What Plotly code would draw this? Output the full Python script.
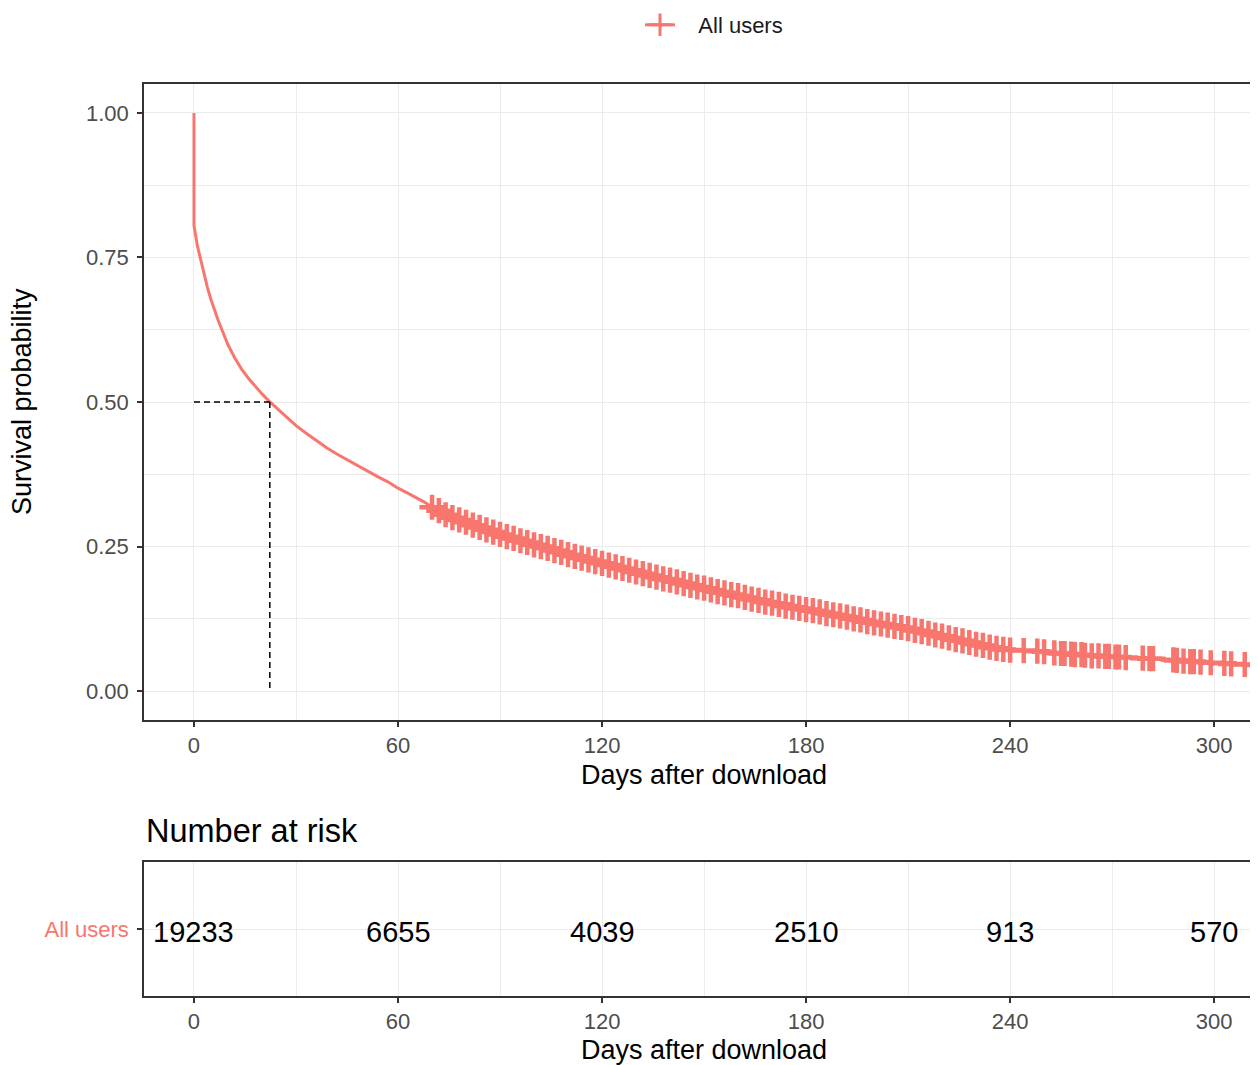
import plotly.graph_objects as go

# Kaplan-Meier curve: days after download -> survival
km_days = [0, 0, 1, 2, 3, 4, 5, 6, 7, 8, 9, 10, 12, 14, 16, 18, 20, 22, 24, 26, 28, 30,
           33, 36, 39, 42, 45, 48, 51, 54, 57, 60, 63, 66, 68,
           70, 72, 74, 76, 78, 80, 82, 84, 86, 88, 90, 92, 94, 96, 98,
           100, 102, 104, 106, 108, 110, 112, 114, 116, 118, 120, 122, 124, 126, 128,
           130, 132, 134, 136, 138, 140, 142, 144, 146, 148, 150, 152, 154, 156, 158,
           160, 162, 164, 166, 168, 170, 172, 174, 176, 178, 180, 182, 184, 186, 188,
           190, 192, 194, 196, 198, 200, 202, 204, 206, 208, 210, 212, 214, 216, 218,
           220, 222, 224, 226, 228, 230, 232, 234, 236, 238, 240,
           244, 248, 250, 253, 255, 256, 258, 259, 261, 262, 264, 266, 268, 269, 271,
           272, 274, 279, 281, 282, 288, 289, 291, 293, 294, 296, 299, 303, 305, 309, 313]
km_surv = [1.000, 0.805, 0.770, 0.745, 0.722, 0.697, 0.677, 0.659, 0.643, 0.628, 0.613,
           0.599, 0.576, 0.557, 0.541, 0.527, 0.514, 0.502, 0.491, 0.480, 0.469, 0.459,
           0.446, 0.433, 0.421, 0.410, 0.400, 0.390, 0.380, 0.371, 0.362, 0.351, 0.342,
           0.333, 0.326,
           0.318, 0.312, 0.305, 0.300, 0.296, 0.292, 0.287, 0.283, 0.279, 0.275, 0.271,
           0.267, 0.264, 0.260, 0.257, 0.253, 0.250, 0.247, 0.243, 0.240, 0.236, 0.233,
           0.230, 0.227, 0.224, 0.221, 0.218, 0.215, 0.212, 0.209, 0.206, 0.203, 0.200,
           0.197, 0.194, 0.192, 0.189, 0.186, 0.183, 0.180, 0.178, 0.175, 0.172, 0.170,
           0.167, 0.165, 0.162, 0.159, 0.157, 0.154, 0.152, 0.150, 0.147, 0.145, 0.143,
           0.141, 0.139, 0.137, 0.134, 0.132, 0.130, 0.128, 0.125, 0.123, 0.120, 0.118,
           0.116, 0.114, 0.112, 0.110, 0.108, 0.105, 0.103, 0.100, 0.097, 0.095, 0.092,
           0.089, 0.087, 0.084, 0.081, 0.079, 0.076, 0.074, 0.072, 0.071,
           0.070, 0.069, 0.068, 0.066, 0.065, 0.065, 0.064, 0.063, 0.063, 0.062, 0.061,
           0.061, 0.060, 0.060, 0.059, 0.059, 0.058, 0.057, 0.056, 0.056, 0.054, 0.053,
           0.052, 0.051, 0.051, 0.050, 0.049, 0.048, 0.047, 0.046, 0.045]

# times with a censoring mark (+)
censor_days = [70, 72, 74, 76, 78, 80, 82, 84, 86, 88, 90, 92, 94, 96, 98,
               100, 102, 104, 106, 108, 110, 112, 114, 116, 118, 120, 122, 124, 126, 128,
               130, 132, 134, 136, 138, 140, 142, 144, 146, 148, 150, 152, 154, 156, 158,
               160, 162, 164, 166, 168, 170, 172, 174, 176, 178, 180, 182, 184, 186, 188,
               190, 192, 194, 196, 198, 200, 202, 204, 206, 208, 210, 212, 214, 216, 218,
               220, 222, 224, 226, 228, 230, 232, 234, 236, 238, 240,
               244, 248, 250, 253, 255, 256, 258, 259, 261, 262, 264, 266, 268, 269, 271,
               272, 274, 279, 281, 282, 288, 289, 291, 293, 294, 296, 299, 303, 305, 309, 313]

median_day = 22.3
group_name = "All users"

risk_days = [0, 60, 120, 180, 240, 300]
risk_counts = [19233, 6655, 4039, 2510, 913, 570]

COLOR = "#F8766D"
FONT = "Liberation Sans, Arial, sans-serif"
OFF = 8                       # page body margin
W, H = 1258 - OFF, 1065 - OFF
PLOT_L, PLOT_R = 144, 1258    # plot area in page pixels
X_RANGE = [-14.7, 312.9]

surv_at = dict(zip(km_days, km_surv))
censor_surv = [surv_at[d] for d in censor_days]

fig = go.Figure()

# survival curve
fig.add_trace(go.Scatter(
    x=km_days, y=km_surv, mode="lines",
    line=dict(color=COLOR, width=3),
    showlegend=False, xaxis="x", yaxis="y",
))
# censoring marks
fig.add_trace(go.Scatter(
    x=censor_days, y=censor_surv, mode="markers",
    marker=dict(symbol="cross-thin", size=18, line=dict(width=4.5, color=COLOR)),
    showlegend=False, xaxis="x", yaxis="y",
))
# legend entry
fig.add_trace(go.Scatter(
    x=[None], y=[None], mode="lines+markers", name="\u00a0\u00a0\u00a0" + group_name,
    line=dict(color=COLOR, width=3),
    marker=dict(symbol="cross-thin", size=17, line=dict(width=3, color=COLOR)),
    xaxis="x", yaxis="y",
))
# empty trace so the table axes are drawn
fig.add_trace(go.Scatter(
    x=risk_days, y=[1] * len(risk_days), mode="markers",
    marker=dict(opacity=0), hoverinfo="skip",
    showlegend=False, xaxis="x2", yaxis="y2",
))

def px_y(p):
    return 1 - (p - OFF) / H

def px_x(p):
    return (p - PLOT_L) / (PLOT_R - PLOT_L)

axis_common = dict(
    showline=True, linecolor="#333333", linewidth=1.5,
    ticks="outside", ticklen=5, tickwidth=1.5, tickcolor="#333333",
    showgrid=True, gridcolor="#EBEBEB", gridwidth=1, zeroline=False,
)
tick_font = dict(size=22, color="#4D4D4D", family=FONT)

fig.update_layout(
    width=W, height=H,
    margin=dict(l=PLOT_L - OFF, r=0, t=0, b=0, autoexpand=False),
    plot_bgcolor="white", paper_bgcolor="white",
    font=dict(family=FONT, color="black"),
    legend=dict(orientation="h", x=px_x(640), xanchor="left",
                y=px_y(4), yanchor="top",
                font=dict(size=22, color="#1A1A1A", family=FONT),
                bgcolor="rgba(0,0,0,0)"),
    xaxis=dict(domain=[0, 1], anchor="y", range=X_RANGE, mirror=True,
               tickmode="linear", tick0=0, dtick=60, tickfont=tick_font,
               minor=dict(tick0=0, dtick=30, showgrid=True, gridcolor="#EBEBEB", ticklen=0),
               **axis_common),
    yaxis=dict(domain=[px_y(720), px_y(84)], anchor="x", range=[-0.05, 1.05],
               tickmode="linear", tick0=0, dtick=0.25, tickformat=".2f",
               tickfont=tick_font, ticklabelstandoff=4,
               minor=dict(tick0=0, dtick=0.125, showgrid=True, gridcolor="#EBEBEB", ticklen=0),
               **axis_common),
    xaxis2=dict(domain=[0, 1], anchor="y2", range=X_RANGE, mirror=True,
                tickmode="linear", tick0=0, dtick=60, tickfont=tick_font,
                minor=dict(tick0=0, dtick=30, showgrid=True, gridcolor="#EBEBEB", ticklen=0),
                **axis_common),
    yaxis2=dict(domain=[px_y(996), px_y(862)], anchor="x2", range=[0, 2],
                tickmode="array", tickvals=[1], ticktext=[group_name],
                ticklabelstandoff=4,
                tickfont=dict(size=22, color=COLOR, family=FONT),
                **axis_common),
)

# number at risk values
for day, count in zip(risk_days, risk_counts):
    fig.add_annotation(xref="x2", yref="y2", x=day, y=1, yshift=-3, showarrow=False,
                       text=str(count), font=dict(size=29, color="black", family=FONT))

# median survival guides
dash_line = dict(color="black", width=1.5, dash="6px,4px")
fig.add_shape(type="line", xref="x", yref="y", x0=0, x1=median_day, y0=0.5, y1=0.5, line=dash_line)
fig.add_shape(type="line", xref="x", yref="y", x0=median_day, x1=median_day, y0=0.5, y1=0, line=dash_line)

annotations = [
    dict(text="Survival probability", x=px_x(22), y=px_y(402), textangle=-90,
         font=dict(size=27, color="black")),
    dict(text="Days after download", x=px_x(704), y=px_y(775),
         font=dict(size=27, color="black")),
    dict(text="Number at risk", x=0, xanchor="left", y=px_y(831),
         font=dict(size=32.5, color="black")),
    dict(text="Days after download", x=px_x(704), y=px_y(1050),
         font=dict(size=27, color="black")),
]
for a in annotations:
    a.setdefault("xanchor", "center")
    fig.add_annotation(xref="paper", yref="paper", yanchor="middle", showarrow=False, **a)

fig.write_html("out.html")
